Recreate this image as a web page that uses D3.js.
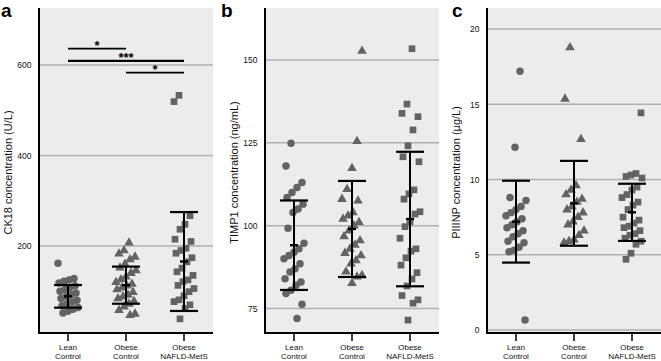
<!DOCTYPE html>
<html>
<head>
<meta charset="utf-8">
<script src="https://cdn.jsdelivr.net/npm/d3@7"></script>
<style>
  html, body { margin: 0; padding: 0; background: #ffffff; }
  svg { display: block; font-family: "Liberation Sans", Arial, Helvetica, sans-serif; }
</style>
</head>
<body>
<svg id="chart" width="661" height="361"></svg>
<script>
// ---------------- DATA ----------------
const groupLine1 = ["Lean", "Obese", "Obese"];
const groupLine2 = ["Control", "Control", "NAFLD-MetS"];

// Panel a: CK18 (U/L)
const ck18Lean  = [162, 128, 125, 122, 118, 112, 108, 104, 100, 96, 92, 88, 84, 80, 76, 72, 68, 64, 60, 56, 52];
const ck18Obese = [207, 190, 183, 176, 170, 160, 152, 146, 140, 132, 126, 120, 116, 112, 108, 104, 98, 92, 88, 84, 78, 72, 66, 58, 50, 47];
const ck18Nafld = [533, 519, 267, 248, 237, 215, 210, 195, 190, 184, 174, 165, 151, 143, 135, 125, 121, 113, 106, 99, 90, 81, 77, 70, 62, 39];
const ck18Mean  = [88.7, 113.4, 165.7];
const ck18Sd    = [25, 41, 109.3];
const ck18Ticks = [200, 400, 600];
const ck18Domain = [7.7, 726];
const sigPairs  = [[0, 1], [0, 2], [1, 2]];
const sigLevels = [636, 609, 583];
const sigLabels = ["*", "***", "*"];

// Panel b: TIMP1 (ng/mL)
const timpLean  = [124.9, 118, 113, 111.5, 110, 108.5, 106.5, 105, 104, 99.2, 94.7, 93, 92, 91, 90, 88.5, 87, 86, 84, 83, 82, 80.5, 79.5, 76.3, 72];
const timpObese = [152.7, 125.5, 117.3, 111, 108, 107.5, 104, 103, 102, 101, 100, 98.5, 96.7, 95.5, 94.2, 93, 91.7, 91, 89.5, 88.5, 86.1, 85, 84.6, 82.6];
const timpNafld = [153.4, 136.7, 133.9, 132.9, 128.9, 124.1, 120.8, 119.3, 110.8, 109.6, 108, 104.2, 103.5, 101.2, 99.7, 96.2, 93, 92.3, 90.3, 88.1, 85.8, 83.9, 81.8, 78.9, 77.6, 76.6, 71.5];
const timpMean  = [94.1, 99, 102];
const timpSd    = [13.5, 14.5, 20.3];
const timpTicks = [75, 100, 125, 150];
const timpDomain = [67.6, 165.7];

// Panel c: PIIINP (µg/L)
const p3Lean  = [17.2, 12.15, 8.8, 8.6, 8.2, 8.0, 7.8, 7.6, 7.4, 7.2, 7.0, 6.8, 6.6, 6.4, 6.2, 5.9, 5.8, 5.5, 5.3, 5.2, 0.66];
const p3Obese = [18.77, 15.36, 12.68, 9.6, 9.3, 9.0, 8.7, 8.5, 8.2, 8.0, 7.8, 7.5, 7.2, 7.0, 6.6, 6.3, 6.0, 5.9, 5.8];
const p3Nafld = [14.43, 10.4, 10.3, 10.2, 10.1, 9.5, 9.3, 9.0, 8.8, 8.5, 8.3, 8.0, 7.5, 7.3, 7.1, 6.9, 6.8, 6.6, 6.4, 6.3, 6.1, 5.9, 5.7, 5.1, 4.7];
const p3Mean  = [7.2, 8.42, 7.82];
const p3Sd    = [2.72, 2.82, 1.9];
const p3Ticks = [0, 5, 10, 15, 20];
const p3Domain = [-0.2, 21.4];

const panelLetters = ["a", "b", "c"];
const yTitles = ["CK18 concentration (U/L)", "TIMP1 concentration (ng/mL)", "PIIINP concentration (\u00B5g/L)"];

// ---------------- LAYOUT / STYLE ----------------
const svg = d3.select("#chart");
const plotTop = 8, plotBottom = 333, pw = 174;
const lefts = [39, 265, 487];
const bg = "#ececec", gridC = "#b0b0b0", ptC = "#636363";
const symbols = [d3.symbolCircle, d3.symbolTriangle, d3.symbolSquare];
const symSizes = [44, 40, 45];

const panels = [
  { groups: [ck18Lean, ck18Obese, ck18Nafld], mean: ck18Mean, sd: ck18Sd, ticks: ck18Ticks, domain: ck18Domain, sig: true },
  { groups: [timpLean, timpObese, timpNafld], mean: timpMean, sd: timpSd, ticks: timpTicks, domain: timpDomain },
  { groups: [p3Lean, p3Obese, p3Nafld], mean: p3Mean, sd: p3Sd, ticks: p3Ticks, domain: p3Domain }
];

panels.forEach((p, pi) => {
  const L = lefts[pi];
  const g = svg.append("g");
  const y = d3.scaleLinear().domain(p.domain).range([plotBottom, plotTop]);
  const x = d3.scalePoint().domain([0, 1, 2]).range([L, L + pw]).padding(0.5);

  g.append("rect").attr("x", L).attr("y", plotTop).attr("width", pw).attr("height", plotBottom - plotTop).attr("fill", bg);

  g.selectAll(".grid").data(p.ticks).enter().append("line")
    .attr("x1", L).attr("x2", L + pw)
    .attr("y1", d => y(d)).attr("y2", d => y(d))
    .attr("stroke", gridC).attr("stroke-width", 1.5);

  const yAxis = d3.axisLeft(y).tickValues(p.ticks).tickSize(0).tickPadding(7.5).tickFormat(d3.format("d"));
  const ya = g.append("g").attr("transform", `translate(${L},0)`).call(yAxis);
  ya.select(".domain").remove();
  ya.selectAll("text").attr("font-size", 8.5).attr("fill", "#111").attr("font-family", "Liberation Sans, Arial, sans-serif");

  p.groups.forEach((vals, gi) => {
    const cx = x(gi);
    g.selectAll(null).data(vals).enter().append("path")
      .attr("d", d3.symbol().type(symbols[gi]).size(symSizes[gi]))
      .attr("transform", (d, i) => {
        const j = (((i * 37 + gi * 13 + pi * 7) % 21) - 10) / 10; // deterministic jitter layout
        return `translate(${cx + j * 10},${y(d)})`;
      })
      .attr("fill", ptC);
  });

  p.mean.forEach((m, gi) => {
    const cx = x(gi);
    const hi = m + p.sd[gi], lo = m - p.sd[gi];
    g.append("line").attr("x1", cx).attr("x2", cx).attr("y1", y(hi)).attr("y2", y(lo))
      .attr("stroke", "#000").attr("stroke-width", 2);
    [hi, lo].forEach(v => {
      g.append("line").attr("x1", cx - 14).attr("x2", cx + 14).attr("y1", y(v)).attr("y2", y(v))
        .attr("stroke", "#000").attr("stroke-width", 2.2);
    });
    g.append("line").attr("x1", cx - 4).attr("x2", cx + 4).attr("y1", y(m)).attr("y2", y(m))
      .attr("stroke", "#000").attr("stroke-width", 2.4);
  });

  if (p.sig) {
    sigPairs.forEach((pr, k) => {
      const yy = y(sigLevels[k]);
      g.append("line").attr("x1", x(pr[0])).attr("x2", x(pr[1])).attr("y1", yy).attr("y2", yy)
        .attr("stroke", "#000").attr("stroke-width", k === 1 ? 2.2 : 1.7);
      g.append("text").attr("x", (x(pr[0]) + x(pr[1])) / 2).attr("y", yy + 1)
        .attr("text-anchor", "middle").attr("font-size", 13).attr("font-weight", "bold")
        .text(sigLabels[k]);
    });
  }

  g.append("line").attr("x1", L).attr("x2", L).attr("y1", plotTop).attr("y2", plotBottom + 1)
    .attr("stroke", "#000").attr("stroke-width", 2);
  g.append("line").attr("x1", L - 1).attr("x2", L + pw).attr("y1", plotBottom).attr("y2", plotBottom)
    .attr("stroke", "#000").attr("stroke-width", 2);

  [0, 1, 2].forEach(gi => {
    const cx = x(gi);
    g.append("line").attr("x1", cx).attr("x2", cx).attr("y1", plotBottom).attr("y2", plotBottom + 8)
      .attr("stroke", "#000").attr("stroke-width", 1.5);
    g.append("text").attr("x", cx).attr("y", 350.3).attr("text-anchor", "middle")
      .attr("font-size", 8).attr("fill", "#111").text(groupLine1[gi]);
    g.append("text").attr("x", cx).attr("y", 359.4).attr("text-anchor", "middle")
      .attr("font-size", 8).attr("fill", "#111").text(groupLine2[gi]);
  });

  const tx = L - 27;
  g.append("text").attr("transform", `translate(${tx},${(plotTop + plotBottom) / 2 + 2}) rotate(-90)`)
    .attr("text-anchor", "middle").attr("font-size", 11).attr("fill", "#111").text(yTitles[pi]);

  const lx = [1, 221, 452][pi];
  g.append("text").attr("x", lx).attr("y", 17.3).attr("font-size", 19).attr("font-weight", "bold")
    .attr("fill", "#000").text(panelLetters[pi]);
});
</script>
</body>
</html>
